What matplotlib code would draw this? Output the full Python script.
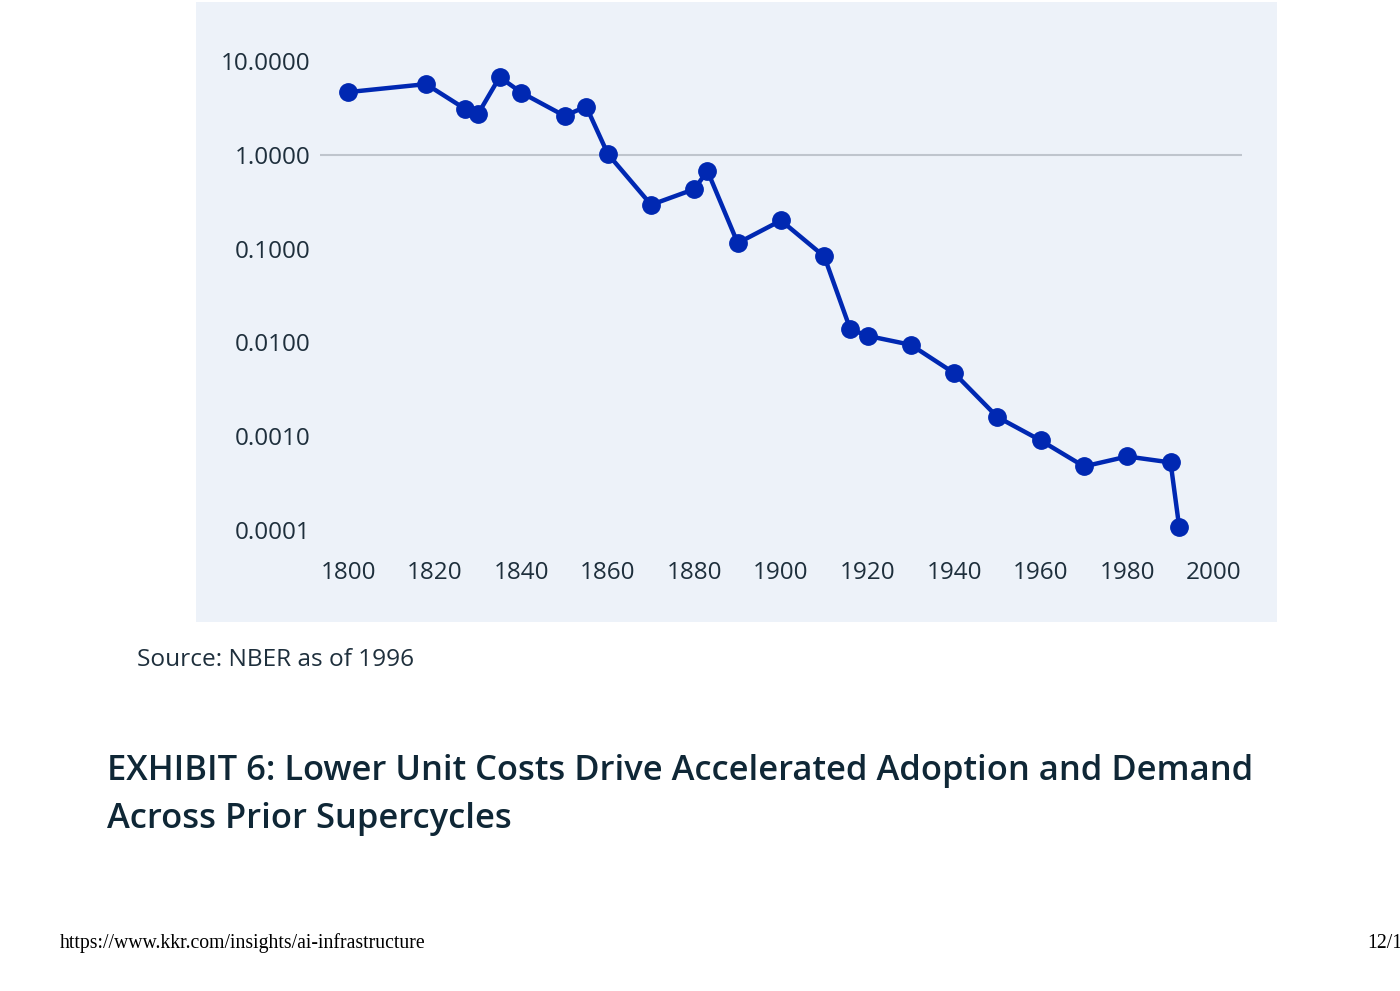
import matplotlib.pyplot as plt
from matplotlib.patches import Rectangle
from matplotlib.ticker import FixedLocator, FuncFormatter

years = [1800, 1818, 1827, 1830, 1835, 1840, 1850, 1855, 1860, 1870, 1880, 1883,
         1890, 1900, 1910, 1916, 1920, 1930, 1940, 1950, 1960, 1970, 1980, 1990, 1992]
unit_cost = [4.66, 5.67, 3.09, 2.72, 6.74, 4.61, 2.60, 3.27, 1.02, 0.293, 0.431, 0.675,
             0.1145, 0.1994, 0.0824, 0.01386, 0.01175, 0.00942, 0.00471, 0.00160,
             0.000901, 0.000476, 0.000608, 0.000525, 0.000107]

x_ticks = [1800, 1820, 1840, 1860, 1880, 1900, 1920, 1940, 1960, 1980, 2000]
y_ticks = [0.0001, 0.001, 0.01, 0.1, 1.0, 10.0]

W, H = 1400, 991
fig = plt.figure(figsize=(14, 9.91), dpi=100)

# light panel behind the chart
fig.patches.append(Rectangle((196 / W, 1 - 622 / H), (1277 - 196) / W, 620 / H,
                             transform=fig.transFigure, facecolor='#edf2f9',
                             edgecolor='none', zorder=-5))

# axes spanning the reference line at 1.0 (x px 320..1242)
ax = fig.add_axes([320 / W, 1 - 530 / H, 922 / W, (530 - 61) / H])
ax.set_zorder(2)
ax.set_facecolor('none')
ax.set_yscale('log')
ax.set_xlim(1793.5, 2006.5)
ax.set_ylim(1e-4, 10)

ax.axhline(1.0, color='#bfc5cd', lw=1.5, zorder=1)
ax.plot(years, unit_cost, color='#0028b2', lw=3.2, marker='o', markersize=12.5,
        clip_on=False, zorder=3)

for s in ax.spines.values():
    s.set_visible(False)
ax.xaxis.set_major_locator(FixedLocator(x_ticks))
ax.yaxis.set_major_locator(FixedLocator(y_ticks))
ax.yaxis.set_minor_locator(FixedLocator([]))
ax.yaxis.set_major_formatter(FuncFormatter(lambda v, p: '%.4f' % v))
ax.tick_params(axis='both', length=0, labelsize=17.5, labelcolor='#1e2f3c')
ax.tick_params(axis='x', pad=22)
ax.tick_params(axis='y', pad=7)
for lab in ax.get_xticklabels() + ax.get_yticklabels():
    lab.set_fontfamily('Open Sans')

fig.text(137 / W, 1 - 660 / H, 'Source: NBER as of 1996', fontsize=17.6,
         family='Open Sans', color='#1e2f3c', va='center', ha='left')

fig.text(107 / W, 1 - 771 / H, 'EXHIBIT 6: Lower Unit Costs Drive Accelerated Adoption and Demand',
         fontsize=24.8, family='Open Sans', weight='semibold', color='#0f2736', va='center', ha='left')
fig.text(107 / W, 1 - 819 / H, 'Across Prior Supercycles',
         fontsize=24.8, family='Open Sans', weight='semibold', color='#0f2736', va='center', ha='left')

fig.text(60 / W, 1 - 943 / H, 'https://www.kkr.com/insights/ai-infrastructure',
         fontsize=14.2, family='Liberation Serif', color='black', va='center', ha='left')
fig.text(1367 / W, 1 - 943 / H, '12/1',
         fontsize=14.2, family='Liberation Serif', color='black', va='center', ha='left')

fig.savefig('out.png', dpi=100, facecolor='white')
